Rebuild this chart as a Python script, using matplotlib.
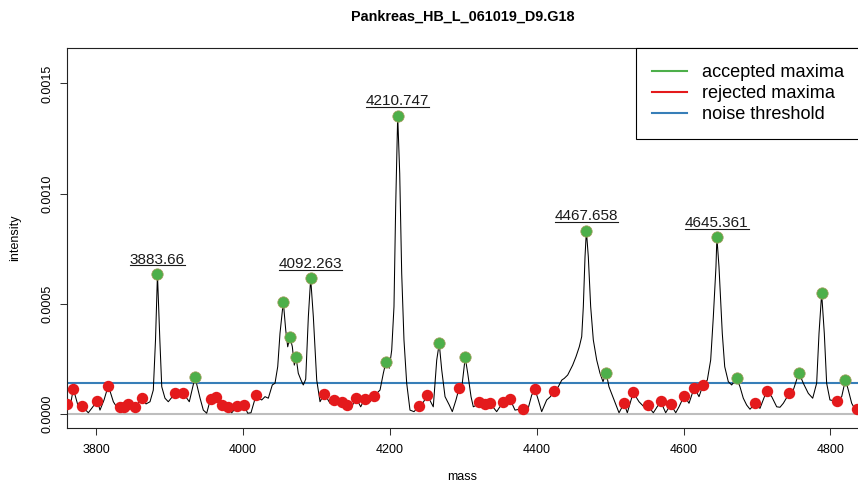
import numpy as np
import matplotlib
matplotlib.use("Agg")
import matplotlib.pyplot as plt
from matplotlib.lines import Line2D

plt.rcParams['font.family'] = ['Liberation Sans', 'DejaVu Sans']

title = "Pankreas_HB_L_061019_D9.G18"

# spectrum trace (mass, intensity in units of 1e-4)
spec_mass = [
    3757.0, 3760.0, 3764.5, 3769.1, 3775.9, 3780.5, 3789.5, 3794.1, 3801.8, 3805.4,
    3810.9, 3816.7, 3823.6, 3827.2, 3832.1, 3835.4, 3838.5, 3843.8, 3847.7, 3852.8,
    3857.6, 3862.2, 3868.1, 3873.5, 3878.0, 3881.0, 3883.66, 3886.9, 3889.5, 3893.9,
    3898.4, 3907.6, 3913.0, 3918.9, 3927.0, 3934.8, 3941.6, 3946.1, 3950.7, 3955.9,
    3959.3, 3963.4, 3967.5, 3971.8, 3979.4, 3984.8, 3992.2, 3996.1, 4001.8, 4006.5,
    4011.0, 4018.1, 4021.0, 4025.6, 4030.1, 4034.6, 4040.0, 4043.7, 4047.4, 4050.5,
    4055.0, 4058.3, 4061.0, 4064.1, 4067.3, 4070.0, 4072.3, 4075.4, 4079.1, 4082.2,
    4085.5, 4089.1, 4092.263, 4095.9, 4100.5, 4105.0, 4110.8, 4118.6, 4124.3, 4129.5,
    4134.4, 4139.0, 4142.4, 4147.2, 4153.6, 4160.4, 4165.6, 4173.1, 4179.0, 4186.7,
    4191.2, 4194.8, 4199.3, 4202.6, 4205.7, 4208.0, 4210.747, 4213.5, 4216.2, 4219.3,
    4223.0, 4227.5, 4233.0, 4239.4, 4244.8, 4251.1, 4255.7, 4259.2, 4263.9, 4267.3,
    4270.7, 4275.2, 4281.0, 4285.1, 4290.1, 4294.2, 4297.9, 4302.7, 4306.1, 4310.6,
    4313.7, 4318.3, 4321.9, 4325.5, 4329.2, 4333.0, 4336.8, 4345.5, 4354.5, 4358.9,
    4363.7, 4370.5, 4381.0, 4387.2, 4393.2, 4397.7, 4402.2, 4406.8, 4413.6, 4418.1,
    4423.8, 4429.4, 4434.1, 4437.6, 4442.2, 4449.0, 4453.5, 4458.0, 4461.3, 4463.5,
    4465.8, 4467.658, 4470.3, 4473.5, 4477.1, 4481.7, 4486.2, 4490.3, 4494.6, 4498.4,
    4505.3, 4512.1, 4518.9, 4523.4, 4531.5, 4539.3, 4546.1, 4550.9, 4558.8, 4568.8,
    4575.6, 4582.5, 4589.3, 4593.8, 4600.8, 4607.4, 4614.5, 4621.0, 4626.7, 4632.3,
    4636.9, 4640.5, 4644.1, 4645.361, 4648.2, 4652.7, 4656.0, 4660.9, 4665.5, 4672.3,
    4676.8, 4681.3, 4685.9, 4690.4, 4697.5, 4704.0, 4713.2, 4720.0, 4726.8, 4731.3,
    4735.8, 4743.8, 4749.4, 4757.1, 4763.0, 4769.8, 4775.8, 4781.2, 4784.4, 4788.0,
    4791.6, 4794.8, 4799.3, 4808.9, 4815.3, 4820.4, 4824.3, 4828.9, 4833.4, 4836.8,
    4842.9,
]
spec_int = np.array([
    0.35, 0.47, 0.30, 1.16, 0.34, 0.39, 0.07, 0.27, 0.62, 0.19,
    0.65, 1.30, 0.57, 0.38, 0.34, 0.24, 0.31, 0.45, 0.29, 0.34,
    0.50, 0.75, 0.47, 0.57, 1.10, 3.37, 6.35, 3.37, 1.25, 0.73,
    0.57, 0.95, 0.83, 0.95, 0.57, 1.68, 0.74, 0.19, 0.05, 0.70,
    0.63, 0.78, 0.50, 0.44, 0.31, 0.07, 0.37, 0.23, 0.41, 0.05,
    0.07, 0.89, 0.73, 0.65, 0.80, 0.73, 1.33, 1.41, 2.16, 3.67,
    5.10, 3.82, 3.06, 3.52, 3.06, 2.23, 2.61, 1.86, 1.55, 1.33,
    1.59, 4.42, 6.16, 4.42, 1.55, 0.57, 0.94, 0.50, 0.67, 0.44,
    0.55, 0.34, 0.41, 0.24, 0.76, 0.34, 0.71, 0.57, 0.84, 1.10,
    1.86, 2.39, 2.09, 2.91, 4.88, 9.41, 13.54, 10.92, 6.39, 3.37,
    1.41, 0.19, 0.12, 0.36, 0.50, 0.86, 0.57, 0.34, 2.46, 3.21,
    2.01, 0.80, 0.42, 0.12, 0.65, 1.17, 1.18, 2.58, 1.86, 0.80,
    0.34, 0.42, 0.57, 0.42, 0.47, 0.38, 0.49, 0.12, 0.57, 0.49,
    0.68, 0.19, 0.26, 0.12, 0.87, 1.13, 0.65, 0.12, 0.65, 0.78,
    1.04, 1.25, 1.55, 1.63, 1.78, 2.23, 2.61, 3.06, 3.52, 4.88,
    7.14, 8.32, 7.14, 4.88, 3.37, 2.46, 1.86, 1.48, 1.89, 1.25,
    0.65, 0.07, 0.49, 0.07, 0.99, 0.57, 0.34, 0.40, 0.07, 0.59,
    0.07, 0.45, 0.07, 0.34, 0.84, 0.50, 1.21, 0.80, 1.35, 1.55,
    2.46, 4.42, 6.69, 8.02, 6.69, 3.67, 2.16, 1.48, 1.33, 1.63,
    1.25, 0.73, 0.42, 0.23, 0.49, 0.27, 1.07, 0.80, 0.34, 0.32,
    0.50, 0.95, 1.10, 1.89, 1.41, 0.95, 0.73, 1.41, 3.67, 5.48,
    3.67, 1.41, 0.65, 0.59, 0.80, 1.57, 1.10, 0.50, 0.23, 0.26,
    0.10,
]) * 1e-4

# accepted maxima
acc_mass = [3883.66, 3934.8, 4055.0, 4064.1, 4072.3, 4092.263, 4194.8, 4210.747, 4267.3,
            4302.7, 4467.658, 4494.6, 4645.361, 4672.3, 4757.1, 4788.0, 4820.4]
acc_int = np.array([6.35, 1.68, 5.10, 3.52, 2.61, 6.16, 2.39, 13.54, 3.21,
                    2.58, 8.32, 1.89, 8.02, 1.63, 1.89, 5.48, 1.57]) * 1e-4

# rejected maxima
rej_mass = [3760.0, 3769.1, 3780.5, 3801.8, 3816.7, 3832.1, 3838.5, 3843.8, 3852.8, 3862.2,
            3907.6, 3918.9, 3955.9, 3963.4, 3971.8, 3979.4, 3992.2, 4001.8, 4018.1, 4110.8,
            4124.3, 4134.4, 4142.4, 4153.6, 4165.6, 4179.0, 4239.4, 4251.1, 4294.2, 4321.9,
            4329.2, 4336.8, 4354.5, 4363.7, 4381.0, 4397.7, 4423.8, 4518.9, 4531.5, 4550.9,
            4568.8, 4582.5, 4600.8, 4614.5, 4626.7, 4697.5, 4713.2, 4743.8, 4808.9, 4836.8]
rej_int = np.array([0.47, 1.16, 0.39, 0.62, 1.30, 0.34, 0.31, 0.45, 0.34, 0.75,
                    0.95, 0.95, 0.70, 0.78, 0.44, 0.31, 0.37, 0.41, 0.89, 0.94,
                    0.67, 0.55, 0.41, 0.76, 0.71, 0.84, 0.36, 0.86, 1.17, 0.57,
                    0.47, 0.49, 0.57, 0.68, 0.26, 1.13, 1.04, 0.49, 0.99, 0.40,
                    0.59, 0.45, 0.84, 1.21, 1.35, 0.49, 1.07, 0.95, 0.59, 0.26]) * 1e-4

noise_threshold = 1.43e-4

# labelled peaks
label_mass = [3883.66, 4092.263, 4210.747, 4467.658, 4645.361]
label_int = np.array([6.35, 6.16, 13.54, 8.32, 8.02]) * 1e-4

x_ticks = [3800, 4000, 4200, 4400, 4600, 4800]
y_ticks = [0.0, 0.0005, 0.0010, 0.0015]
y_ticklabels = ["0.0000", "0.0005", "0.0010", "0.0015"]

green = '#4DAF4A'
red = '#E41A1C'
blue = '#377EB8'

fig = plt.figure(figsize=(8.58, 4.83), dpi=100)
ax = fig.add_axes([67.3 / 858, 1 - 427.7 / 483, (859.7 - 67.3) / 858, (427.7 - 48.3) / 483])

ax.axhline(0, color='#BEBEBE', lw=1.5, zorder=1)
ax.axhline(noise_threshold, color=blue, lw=1.5, zorder=2)
ax.plot(spec_mass, spec_int, color='black', lw=0.75, zorder=3)
ax.plot(rej_mass, rej_int, linestyle='none', marker='o', ms=8.2, color=red,
        markeredgewidth=0, zorder=4)
ax.plot(acc_mass, acc_int, linestyle='none', marker='o', ms=8.2, markerfacecolor=green,
        markeredgecolor='#A59A5A', markeredgewidth=0.5, zorder=5)

ax.set_xlim(3760.9, 4839.8)
ax.set_ylim(-0.607e-4, 16.59e-4)
ax.set_xticks(x_ticks)
ax.set_yticks(y_ticks)
ax.set_yticklabels(y_ticklabels)
ax.tick_params(axis='both', length=5, width=0.75, labelsize=9, color='#333333')
ax.tick_params(axis='x', pad=6.5)
ax.tick_params(axis='y', pad=5)
for lbl in ax.get_yticklabels():
    lbl.set_rotation(90)
    lbl.set_va('center')
for s in ax.spines.values():
    s.set_linewidth(0.8)
    s.set_color('#222222')

fig.text(463 / 858, 1 - 17 / 483, title, ha='center', va='center', fontsize=10.4, fontweight='bold')
fig.text(462 / 858, 1 - 477 / 483, 'mass', ha='center', va='center', fontsize=9)
fig.text(15 / 858, 1 - 238 / 483, 'intensity', ha='center', va='center', fontsize=9, rotation=90)

leg_handles = [Line2D([], [], color=green, lw=1.5),
               Line2D([], [], color=red, lw=1.5),
               Line2D([], [], color=blue, lw=1.5)]
leg = ax.legend(leg_handles, ['accepted maxima', 'rejected maxima', 'noise threshold'],
                loc='upper right', bbox_to_anchor=(1, 1), borderaxespad=0,
                fontsize=13.1, handlelength=1.92, handletextpad=0.82, borderpad=0.86,
                labelspacing=0.23, fancybox=False, framealpha=1, edgecolor='black')
leg.get_frame().set_linewidth(0.8)

# underlined peak labels
off_pt = 7.6
texts = []
for m, v in zip(label_mass, label_int):
    t = ax.annotate(str(m), (m, v), xytext=(0, off_pt), textcoords='offset points',
                    ha='center', va='baseline', fontsize=11, color='#1a1a1a', zorder=6)
    texts.append(t)

fig.canvas.draw()
r = fig.canvas.get_renderer()
inv = fig.transFigure.inverted()
for t, m, v in zip(texts, label_mass, label_int):
    bb = t.get_window_extent(r)
    base = ax.transData.transform((m, v))[1] + off_pt * fig.dpi / 72
    y_ul = base - 1.8
    (x0f, yf), (x1f, _) = inv.transform([(bb.x0, y_ul), (bb.x1, y_ul)])
    fig.add_artist(Line2D([x0f, x1f], [yf, yf], color='#1a1a1a', lw=0.8,
                          transform=fig.transFigure))

fig.savefig('out.png', dpi=100)
